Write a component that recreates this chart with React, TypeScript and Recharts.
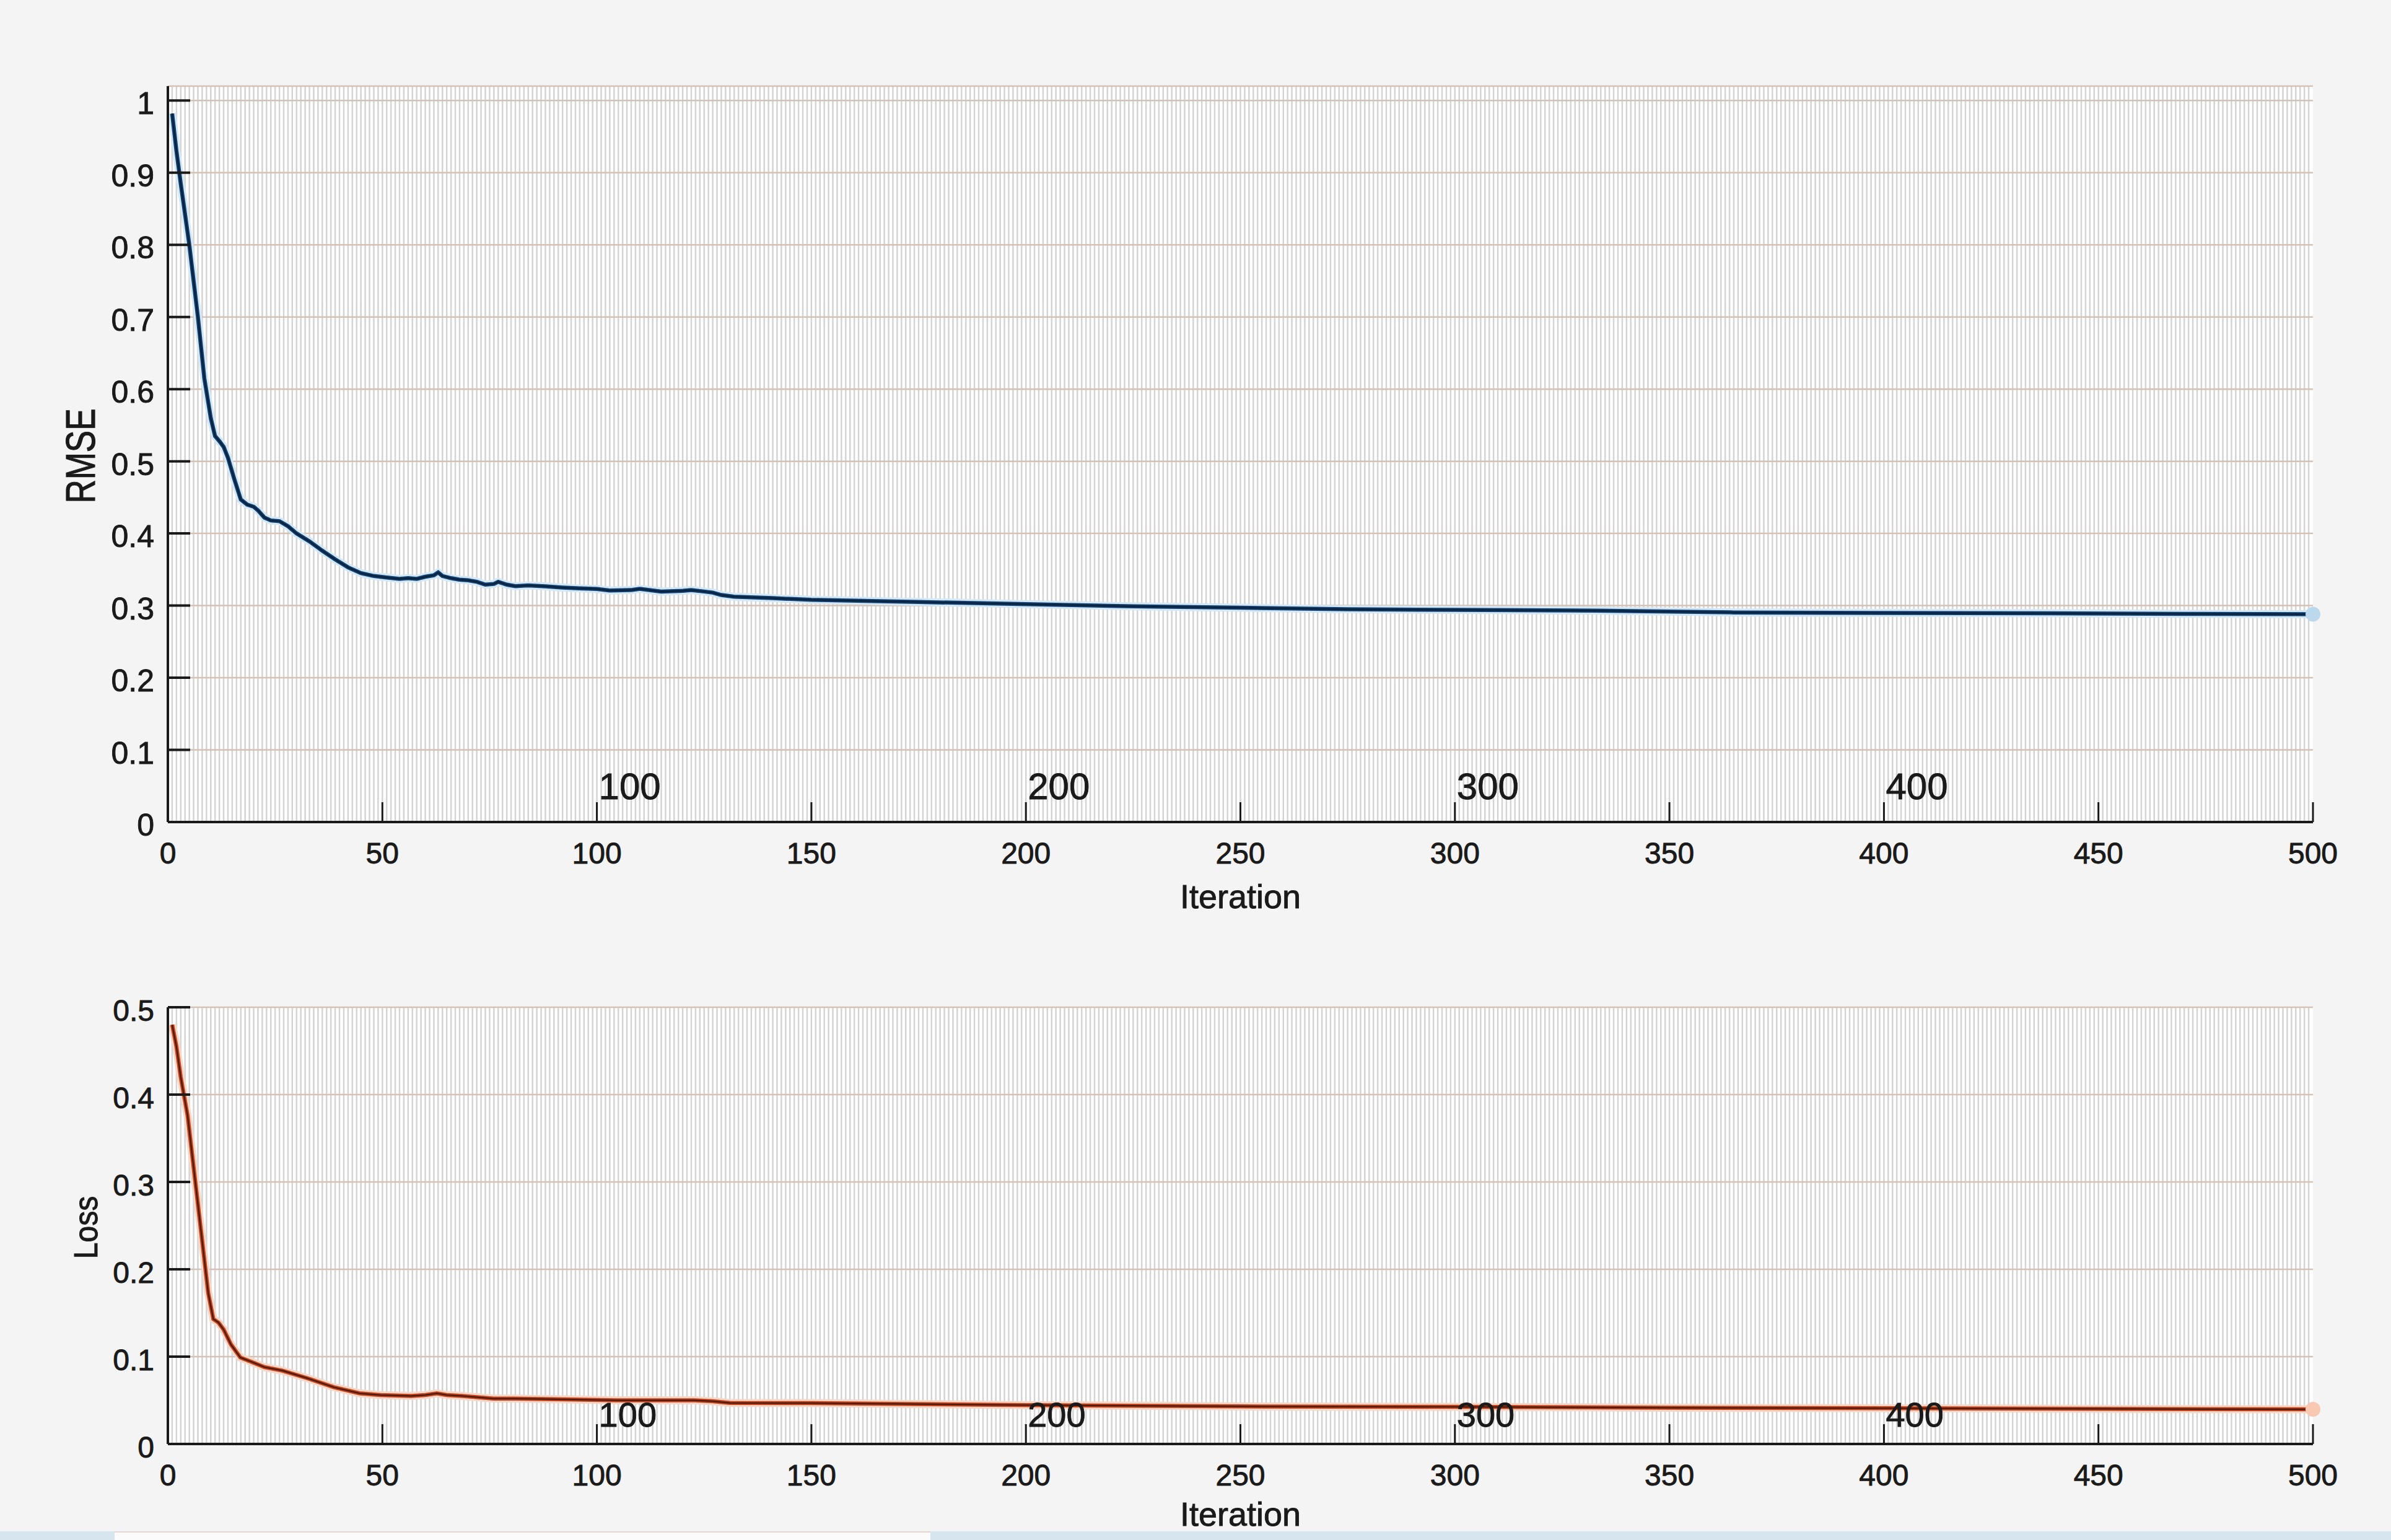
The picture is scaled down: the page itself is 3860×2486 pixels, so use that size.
import { LineChart, Line, XAxis, YAxis, CartesianGrid, ReferenceDot } from "recharts";

// RMSE curve
const RMSE_ITER = [1, 2, 3, 5, 7, 8.5, 10, 11, 12, 13, 14, 15.5, 17, 18.5, 20, 21, 22.5, 24, 26, 28, 30, 33, 36, 39, 42, 45, 48, 51, 54, 56, 58, 60, 62, 63, 64, 66, 68, 70, 72, 74, 76, 77, 79, 81, 84, 88, 92, 96, 100, 103, 108, 110, 115, 120, 122, 125, 127, 129, 132, 141, 150, 175, 200, 225, 250, 275, 300, 333, 365, 400, 437, 470, 500];
const RMSE_VAL = [0.982, 0.93, 0.885, 0.8, 0.7, 0.615, 0.56, 0.535, 0.528, 0.52, 0.505, 0.475, 0.447, 0.44, 0.437, 0.432, 0.422, 0.418, 0.417, 0.41, 0.4, 0.389, 0.376, 0.364, 0.353, 0.345, 0.341, 0.339, 0.337, 0.338, 0.337, 0.34, 0.342, 0.346, 0.341, 0.338, 0.336, 0.335, 0.333, 0.329, 0.33, 0.333, 0.329, 0.327, 0.328, 0.3266, 0.325, 0.3238, 0.323, 0.3209, 0.3215, 0.3232, 0.3195, 0.3205, 0.3215, 0.3195, 0.318, 0.3146, 0.3124, 0.3103, 0.308, 0.305, 0.302, 0.299, 0.297, 0.295, 0.294, 0.293, 0.2905, 0.2898, 0.2894, 0.2885, 0.288];

// Loss curve
const LOSS_ITER = [1, 2, 3, 4.6, 6.4, 8.2, 9.4, 10.6, 11.8, 13, 14.7, 16.9, 19.5, 22.5, 26.7, 32.7, 38.7, 44.7, 49.5, 56.7, 60, 62.7, 65, 68.7, 75.9, 80.7, 92.7, 104.7, 122.7, 127, 131, 150, 200, 250, 300, 350, 400, 450, 500];
const LOSS_VAL = [0.48, 0.455, 0.42, 0.376, 0.3, 0.224, 0.173, 0.143, 0.139, 0.131, 0.114, 0.099, 0.094, 0.088, 0.084, 0.075, 0.065, 0.058, 0.056, 0.055, 0.056, 0.058, 0.056, 0.055, 0.052, 0.052, 0.051, 0.05, 0.05, 0.049, 0.047, 0.0468, 0.0445, 0.043, 0.0425, 0.0415, 0.041, 0.0402, 0.0397];

const RMSE_FINAL = [500, 0.288];
const LOSS_FINAL = [500, 0.0397];

const X_TICKS = [0, 50, 100, 150, 200, 250, 300, 350, 400, 450, 500];
const X_INNER = [100, 200, 300, 400];
const RMSE_TICKS = [0, 0.1, 0.2, 0.3, 0.4, 0.5, 0.6, 0.7, 0.8, 0.9, 1];
const LOSS_TICKS = [0, 0.1, 0.2, 0.3, 0.4, 0.5];
const GRID_ITERS = Array.from({ length: 499 }, (_, i) => i + 1);

const rmseData = RMSE_ITER.map((it, i) => ({ it, v: RMSE_VAL[i] }));
const lossData = LOSS_ITER.map((it, i) => ({ it, v: LOSS_VAL[i] }));

const FONT = "'Liberation Sans', Arial, Helvetica, sans-serif";
const INK = "#1a1a1a";
// a hairline outline thickens the glyphs a little, like the scanned original
const HEAVY = { stroke: INK, strokeWidth: 0.9 };

// one faint vertical rule per iteration, spread over the plot width
const gridX = ({ offset }: any) => GRID_ITERS.map((i) => offset.left + (offset.width * i) / 500);

function XTick({ x, y, payload, innerRise, innerSize }: any) {
  const v = payload.value;
  return (
    <g>
      <line x1={x} y1={y} x2={x} y2={y - 32} stroke={INK} strokeWidth={3} />
      <text x={x} y={y + 67} textAnchor="middle" fontSize={48} fontFamily={FONT} fill={INK} {...HEAVY}>{v}</text>
      {X_INNER.includes(v) && (
        <text x={x + 3} y={y - innerRise} textAnchor="start" fontSize={innerSize} fontFamily={FONT} fill={INK} {...HEAVY}>{v}</text>
      )}
    </g>
  );
}

function YTick({ x, y, payload, size }: any) {
  return (
    <g>
      <line x1={x} y1={y} x2={x + 36} y2={y} stroke={INK} strokeWidth={4} />
      <text x={x - 22} y={y + 5} textAnchor="end" dominantBaseline="central" fontSize={size} fontFamily={FONT} fill={INK} {...HEAVY}>{String(payload.value)}</text>
    </g>
  );
}

function Panel({ data, final, ticks, domain, height, marginTop, xHeight, yTitle, titleX, titleSize, titleStretch, innerRise, innerSize, iterDrop, halo, stroke, core, dotFill, tickSize }: any) {
  return (
    <LineChart width={3860} height={height} data={data} margin={{ top: marginTop, right: 126, bottom: 0, left: 0 }}>
      <CartesianGrid horizontal={false} vertical stroke="#d4d4d4" strokeWidth={2.5} fill="#ffffff" verticalCoordinatesGenerator={gridX} />
      <CartesianGrid horizontal vertical={false} stroke="#d5c2b6" strokeWidth={2.5} />
      <XAxis
        dataKey="it" type="number" domain={[0, 500]} ticks={X_TICKS} interval={0}
        tickSize={0} tickMargin={0} tickLine={false} height={xHeight}
        axisLine={{ stroke: INK, strokeWidth: 4 }}
        tick={<XTick innerRise={innerRise} innerSize={innerSize} />}
        label={{
          content: ({ viewBox }: any) => (
            <text x={viewBox.x + viewBox.width / 2} y={viewBox.y + iterDrop} textAnchor="middle" fontSize={54} fontFamily={FONT} fill={INK} {...HEAVY}>Iteration</text>
          ),
        }}
      />
      <YAxis
        type="number" domain={domain} ticks={ticks} interval={0} width={271}
        tickSize={0} tickMargin={0} tickLine={false} allowDataOverflow
        axisLine={{ stroke: INK, strokeWidth: 4 }}
        tick={<YTick size={tickSize} />}
        label={{
          content: ({ viewBox }: any) => (
            <text
              transform={`translate(${viewBox.x + titleX},${viewBox.y + viewBox.height / 2 + 3}) rotate(-90) scale(1,${titleStretch})`}
              textAnchor="middle" dominantBaseline="central" fontSize={titleSize} fontFamily={FONT} fill={INK} {...HEAVY}
            >{yTitle}</text>
          ),
        }}
      />
      <Line dataKey="v" type="linear" stroke={halo} strokeWidth={13} dot={false} isAnimationActive={false} />
      <Line dataKey="v" type="linear" stroke={stroke} strokeWidth={6.5} dot={false} isAnimationActive={false} />
      <Line dataKey="v" type="linear" stroke={core} strokeWidth={2.5} dot={false} isAnimationActive={false} />
      <ReferenceDot x={final[0]} y={final[1]} r={12} fill={dotFill} stroke="none" />
    </LineChart>
  );
}

export default function App() {
  return (
    <div style={{ position: "absolute", left: 0, top: 0, width: 3860, height: 2486, background: "#f5f4f4", overflow: "hidden" }}>
      <div style={{ position: "absolute", left: 0, top: 0 }}>
        <Panel
          data={rmseData} final={RMSE_FINAL} ticks={RMSE_TICKS} domain={[0, 1.02]}
          height={1500} marginTop={139} xHeight={173}
          yTitle="RMSE" titleX={130} titleSize={53} titleStretch={1.27}
          innerRise={37} innerSize={60} iterDrop={139} tickSize={50}
          halo="#d3e7f4" stroke="#0f3f73" core="#0d2238" dotFill="#bcd8ec"
        />
      </div>
      <div style={{ position: "absolute", left: 0, top: 1500 }}>
        <Panel
          data={lossData} final={LOSS_FINAL} ticks={LOSS_TICKS} domain={[0, 0.5]}
          height={986} marginTop={126} xHeight={155}
          yTitle="Loss" titleX={139} titleSize={48} titleStretch={1.12}
          innerRise={28} innerSize={56} iterDrop={132} tickSize={48}
          halo="#f6d6c6" stroke="#c8421a" core="#4a1d12" dotFill="#f8c8b2"
        />
      </div>
      <div style={{ position: "absolute", left: 0, top: 2472, width: 3860, height: 14, background: "#d7e5ee" }} />
      <div style={{ position: "absolute", left: 185, top: 2472, width: 1317, height: 14, background: "#fbfbfb", borderTop: "2px solid #e6d6d0" }} />
    </div>
  );
}
